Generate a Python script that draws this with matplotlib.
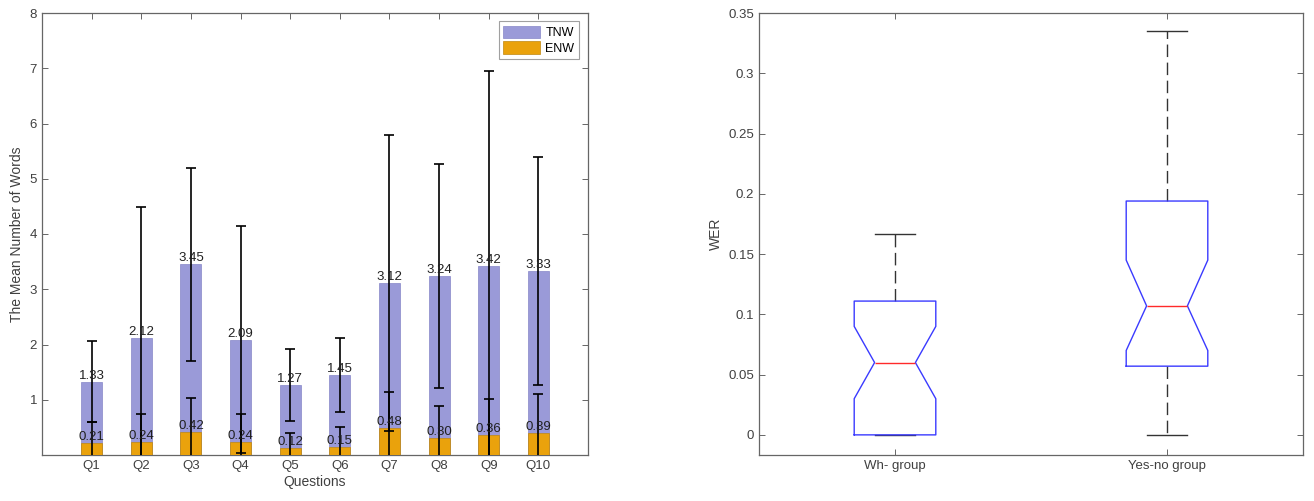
import numpy as np
import matplotlib
matplotlib.use("Agg")
import matplotlib.pyplot as plt

plt.rcParams['font.family'] = ['Liberation Sans', 'DejaVu Sans']

# --- dados: número médio de palavras por questão ---
questoes = ["Q1", "Q2", "Q3", "Q4", "Q5", "Q6", "Q7", "Q8", "Q9", "Q10"]
tnw = [1.33, 2.12, 3.45, 2.09, 1.27, 1.45, 3.12, 3.24, 3.42, 3.33]
tnw_std = [0.74, 2.37, 1.75, 2.05, 0.65, 0.67, 2.68, 2.02, 3.53, 2.06]
enw = [0.21, 0.24, 0.42, 0.24, 0.12, 0.15, 0.48, 0.30, 0.36, 0.39]
enw_std = [0.38, 0.50, 0.61, 0.51, 0.28, 0.36, 0.66, 0.59, 0.65, 0.71]

# --- dados: WER por grupo (boxplot com entalhe) ---
grupos = ["Wh- group", "Yes-no group"]
wer_med = [0.060, 0.107]
wer_q1 = [0.0, 0.057]
wer_q3 = [0.111, 0.194]
wer_whislo = [0.0, 0.0]
wer_whishi = [0.167, 0.335]
wer_cilo = [0.030, 0.070]
wer_cihi = [0.090, 0.145]

cinza = "#404040"
fig = plt.figure(figsize=(13.14, 5.01), dpi=100)
ax1 = fig.add_axes([42 / 1314, 1 - 455 / 501, 546 / 1314, 442 / 501])
ax2 = fig.add_axes([759 / 1314, 1 - 455 / 501, 544 / 1314, 442 / 501])

# Gráfico de barras
x = np.arange(1, len(questoes) + 1)
larg = 0.42
ax1.bar(x, tnw, larg, color="#9a9ad8", edgecolor="#8686c8", linewidth=0.5, label="TNW", zorder=2)
ax1.bar(x, enw, larg, color="#eaa20c", edgecolor="#c08810", linewidth=0.5, label="ENW", zorder=3)
ax1.errorbar(x, tnw, yerr=tnw_std, fmt="none", ecolor="black", elinewidth=1.2,
             capsize=3.3, capthick=1.2, zorder=4)
ax1.errorbar(x, enw, yerr=enw_std, fmt="none", ecolor="black", elinewidth=1.2,
             capsize=3.3, capthick=1.2, zorder=4)
for xi, v in zip(x, tnw):
    ax1.text(xi, v, f"{v:.2f}", ha="center", va="bottom", fontsize=9.5, color="#202020", zorder=5)
for xi, v in zip(x, enw):
    ax1.text(xi, v, f"{v:.2f}", ha="center", va="bottom", fontsize=9.5, color="#202020", zorder=5)

ax1.set_xlim(0, 11)
ax1.set_ylim(0, 8)
ax1.set_xticks(x)
ax1.set_xticklabels(questoes)
ax1.set_yticks(range(1, 9))
ax1.set_xlabel("Questions", fontsize=10, color=cinza, labelpad=2)
ax1.set_ylabel("The Mean Number of Words", fontsize=10, color=cinza, labelpad=4)
leg = ax1.legend(loc="upper right", fontsize=9, frameon=True, fancybox=False,
                 handlelength=3.0, handleheight=1.2, handletextpad=0.4,
                 borderpad=0.35, labelspacing=0.15, borderaxespad=0.3,
                 bbox_to_anchor=(0.99, 0.99))
leg.get_frame().set_edgecolor("#888888")
leg.get_frame().set_linewidth(0.8)

# Boxplot
stats = []
for i in range(len(grupos)):
    stats.append(dict(med=wer_med[i], q1=wer_q1[i], q3=wer_q3[i],
                      whislo=wer_whislo[i], whishi=wer_whishi[i],
                      cilo=wer_cilo[i], cihi=wer_cihi[i], fliers=[]))
ax2.bxp(stats, positions=[1, 2], widths=0.3, shownotches=True, showfliers=False,
        boxprops=dict(color="#3a3aff", linewidth=1.0, zorder=4),
        medianprops=dict(color="#ff2a2a", linewidth=1.0, zorder=5),
        whiskerprops=dict(color="#333333", linewidth=1.0, linestyle=(0, (9, 4)), zorder=2),
        capprops=dict(color="#333333", linewidth=1.0, zorder=2), capwidths=0.15)
ax2.set_xlim(0.5, 2.5)
ax2.set_ylim(-0.0167, 0.35)
ax2.set_xticks([1, 2])
ax2.set_xticklabels(grupos)
ax2.set_yticks([0, 0.05, 0.1, 0.15, 0.2, 0.25, 0.3, 0.35])
ax2.set_yticklabels(["0", "0.05", "0.1", "0.15", "0.2", "0.25", "0.3", "0.35"])
ax2.set_ylabel("WER", fontsize=10, color=cinza, labelpad=4)

for ax in (ax1, ax2):
    for s in ax.spines.values():
        s.set_color("#666666")
        s.set_linewidth(0.9)
    ax.tick_params(direction="in", length=4, width=0.7, colors="#666666",
                   labelcolor=cinza, labelsize=9.5, top=True, right=True)

fig.savefig("out.png", dpi=100)
